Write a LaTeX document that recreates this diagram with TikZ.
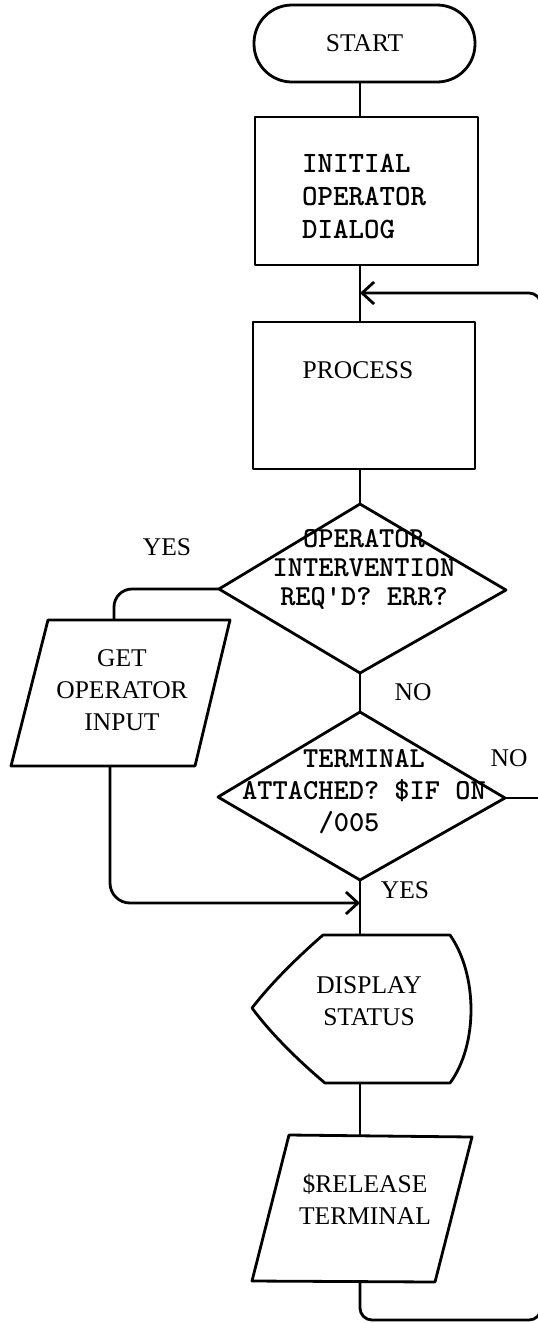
\documentclass[tikz,border=0pt]{standalone}
\usepackage{fontspec}
\setmainfont{Liberation Serif}
\usetikzlibrary{arrows.meta}
\begin{document}
\begin{tikzpicture}[x=1pt,y=-1pt,
  ln/.style={line width=2.8pt, line join=round},
  box/.style={ln, draw, inner sep=0pt},
  serif/.style={font=\fontsize{25.5}{32}\selectfont, align=center, inner sep=0pt},
  mono/.style={font=\fontsize{29}{29}\selectfont\ttfamily\bfseries, align=center, inner sep=0pt},
  tip/.style={-{Straight Barb[length=12pt,width=22pt]}}]
\useasboundingbox (0,0) rectangle (538,1323);
\clip (0,0) rectangle (538,1323);

% START
\node[box, rounded corners=38pt, minimum width=221pt, minimum height=77pt, serif] (start) at (364.5,43.5) {START};

% INITIAL box
\node[box, minimum width=223pt, minimum height=148pt] (init) at (366.5,191) {};
\node[mono, align=left, anchor=west, font=\fontsize{29.5}{33}\selectfont\ttfamily\bfseries] (inittxt) at (302,196) {INITIAL\\OPERATOR\\DIALOG};

% PROCESS box
\node[box, minimum width=222pt, minimum height=147pt] (proc) at (364,395.5) {};
\node[serif] (proctxt) at (358,370) {PROCESS};

% Diamond 1
\coordinate (d1t) at (360,504);
\coordinate (d1l) at (219,589);
\coordinate (d1r) at (506,590);
\coordinate (d1b) at (360,673);
\draw[ln] (d1t) -- (d1r) -- (d1b) -- (d1l) -- cycle;
\node[mono] (d1txt) at (364,569) {OPERATOR\\INTERVENTION\\REQ'D? ERR?};

% Diamond 2
\coordinate (d2t) at (360,712);
\coordinate (d2l) at (218,797);
\coordinate (d2r) at (505,798);
\coordinate (d2b) at (360,880);
\draw[ln] (d2t) -- (d2r) -- (d2b) -- (d2l) -- cycle;
\node[mono, font=\fontsize{29}{32}\selectfont\ttfamily\bfseries] (d2txt) at (364,792) {TERMINAL\\ATTACHED? \$IF ON\\/005\hspace*{30pt}};

% GET OPERATOR INPUT
\coordinate (g1) at (48,620);
\coordinate (g2) at (230,620);
\coordinate (g3) at (195,766);
\coordinate (g4) at (11,766);
\draw[ln] (g1) -- (g2) -- (g3) -- (g4) -- cycle;
\node[serif] (gtxt) at (122,690) {GET\\OPERATOR\\INPUT};
\coordinate (gtop) at (114,620);
\coordinate (gbot) at (110,766);

% DISPLAY STATUS
\coordinate (dtl) at (323,935);
\coordinate (dtr) at (450,935);
\coordinate (dbr) at (450,1083);
\coordinate (dbl) at (325,1083);
\coordinate (dlp) at (252,1008);
\coordinate (dtop) at (360,935);
\coordinate (dbot) at (360,1083);
\draw[ln] (dtl) -- (dtr) .. controls (478,975) and (478,1045) .. (dbr) -- (dbl)
  .. controls (300,1062) and (272,1035) .. (dlp) .. controls (272,982) and (300,955) .. (dtl) -- cycle;
\node[serif] (disptxt) at (369,1001) {DISPLAY\\STATUS};

% $RELEASE TERMINAL
\coordinate (r1) at (289,1135);
\coordinate (r2) at (472,1137);
\coordinate (r3) at (435,1282);
\coordinate (r4) at (252,1281);
\draw[ln] (r1) -- (r2) -- (r3) -- (r4) -- cycle;
\node[serif] (rtxt) at (365,1199) {\$RELEASE\\TERMINAL};
\coordinate (rtop) at (360,1136);
\coordinate (rbot) at (360,1281.5);

% connectors
\coordinate (loopin) at (360,293);
\coordinate (join) at (360,903);
\coordinate (lbr) at (541,1320);
\coordinate (ltr) at (541,293);
\draw[ln] (start.south -| d1t) -- (init.north -| d1t);
\draw[ln] (init.south -| d1t) -- (proc.north -| d1t);
\draw[ln] (proc.south -| d1t) -- (d1t);
\draw[ln] (d1b) -- (d2t);
\draw[ln] (d2b) -- (dtop);
\draw[ln] (dbot) -- (rtop);
\draw[ln, rounded corners=18pt] (d1l) -| (gtop);
\draw[ln, tip, rounded corners=20pt] (gbot) |- (join);
\draw[ln, tip, rounded corners=12pt] (rbot) |- (lbr) -- (ltr) -- (loopin);
\draw[ln] (d2r) -- (d2r -| ltr);

% labels
\node[serif] (yes1) at (167,547) {YES};
\node[serif] (no1) at (413,692) {NO};
\node[serif] (no2) at (509,758) {NO};
\node[serif] (yes2) at (405,890) {YES};
\end{tikzpicture}
\end{document}
